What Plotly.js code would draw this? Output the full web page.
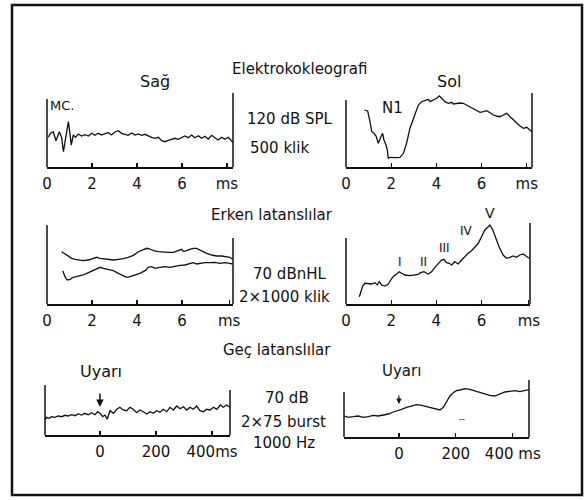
<!DOCTYPE html>
<html>
<head>
<meta charset="utf-8">
<script src="https://cdn.plot.ly/plotly-3.0.1.min.js"></script>
<style>html,body{margin:0;padding:0;background:#fff}#chart{width:587px;height:500px}</style>
</head>
<body>
<div id="chart"></div>
<script>
// Elektrokokleografi – Sağ (ms, amplitude a.u.)
const sagX = [0.06,0.16,0.28,0.40,0.55,0.65,0.73,0.83,0.95,1.02,1.08,1.17,1.27,1.39,1.54,1.69,1.84,1.99,2.13,2.28,2.43,2.58,2.73,2.87,3.02,3.17,3.32,3.47,3.61,3.76,3.91,4.06,4.21,4.36,4.50,4.65,4.80,4.95,5.10,5.24,5.39,5.54,5.69,5.84,5.99,6.13,6.28,6.43,6.58,6.73,6.87,7.02,7.17,7.32,7.47,7.61,7.76,7.91,8.06,8.18,8.28];
const sagY = [29.7,33.7,35.3,26.3,35.3,29.7,15.3,28.7,45.3,33.7,22,32,29.7,33,31,32.3,31,33.7,31.7,33.7,32,33.3,34.3,32,35,36.3,33.7,32.7,31.7,34,32,33,31.7,32.7,31,29.7,28.7,29.7,26.3,25.3,26.7,27.7,28.7,27.7,29.7,31,29.3,32,29.3,31.3,28.7,30.7,28,31.7,29.3,27,29.7,27.7,29.7,26.3,24.3];
// Elektrokokleografi – Sol
const solX = [0.81,0.96,1.06,1.14,1.24,1.33,1.43,1.50,1.58,1.62,1.68,1.77,1.83,1.87,1.95,2.17,2.39,2.54,2.68,2.83,3.05,3.20,3.35,3.50,3.64,3.72,3.86,4.01,4.13,4.23,4.38,4.53,4.68,4.75,4.90,5.04,5.19,5.34,5.49,5.63,5.78,5.93,6.08,6.23,6.37,6.52,6.67,6.81,6.96,7.11,7.26,7.41,7.55,7.70,7.85,8.00,8.14,8.22];
const solY = [57,56,45.3,35.3,33.7,31,23.7,28.7,32,33.7,27,22,17,8.7,9.7,9.3,9.7,13.7,23.7,38.7,53.7,62,65.3,66.3,67.7,65.3,66.7,68.7,71,68.7,65.3,63.7,64.7,63,63.7,64,63.7,62,60.3,58.7,57,54.7,55.3,56.3,54.3,52,51,50.3,52,53.7,50.3,47,43.7,41,38.7,39.7,37,35.3];
// Erken latanslılar – Sağ, two runs
const erkenSagAX = [0.65,0.80,0.95,1.10,1.24,1.39,1.61,1.84,2.06,2.21,2.36,2.50,2.73,2.95,3.17,3.39,3.61,3.84,4.06,4.28,4.43,4.58,4.73,4.95,5.17,5.39,5.61,5.76,5.91,5.99,6.06,6.21,6.36,6.50,6.65,6.80,6.95,7.10,7.32,7.54,7.76,7.99,8.13,8.25];
const erkenSagAY = [41.6,39.3,37.3,35,34,33.3,32.6,33.3,34.6,36,35,34.6,34,33.3,34,34.6,36,38,41.6,44,45,44.3,42.6,41.6,41,41,41,42.3,43.3,44,42,42.6,44,45,45,43.3,41.6,40,38.3,37.3,37.3,36.6,36,34];
const erkenSagBX = [0.70,0.80,0.90,1.02,1.17,1.39,1.61,1.84,2.06,2.21,2.36,2.50,2.73,2.95,3.17,3.39,3.54,3.69,3.91,4.13,4.36,4.50,4.65,4.80,5.02,5.24,5.47,5.69,5.91,6.13,6.36,6.50,6.65,6.80,7.02,7.24,7.47,7.69,7.91,8.13,8.25];
const erkenSagBY = [22.6,16.6,13.3,14,16,17.3,18.3,20.6,22.6,24.6,26,25,24,22.6,20,17.3,16,16.6,18,20,22.6,26,26.6,25,26,26.6,26,27.3,28,28.3,29.3,30.6,29.3,30,30.6,30.6,31,30,30.6,30,29.3];
// Erken latanslılar – Sol
const erkenSolX = [0.59,0.65,0.74,0.84,0.99,1.14,1.28,1.39,1.47,1.58,1.73,1.87,1.98,2.09,2.24,2.36,2.46,2.61,2.83,3.05,3.20,3.30,3.45,3.64,3.79,3.94,4.09,4.23,4.34,4.45,4.57,4.68,4.82,4.97,5.12,5.27,5.41,5.56,5.71,5.86,6.00,6.15,6.30,6.37,6.49,6.64,6.78,6.96,7.11,7.26,7.41,7.55,7.70,7.85,8.00,8.11];
const erkenSolY = [7.3,12.3,18,20.7,20.7,20,21.3,19,22.3,19,18,20,24,27.3,30,32.3,30.7,29,28.3,29,29.7,31.3,32.3,30,32.3,36.7,40,44,44.7,41.3,40.7,39,42.3,40,44,48,50.7,53.3,57.3,60.7,67.3,74,77.3,79,74.7,65.7,57.3,49,45.7,46.7,48,46.7,49,50,48,45.7];
// Geç latanslılar – Sağ
const gecSagX = [-196,-190,-181,-173,-161,-149,-137,-125,-113,-101,-89,-77,-65,-54,-42,-30,-18,-8,0,10,18,26,36,48,60,71,83,95,107,119,131,143,155,167,179,190,202,214,226,238,250,262,274,286,298,310,321,333,345,357,369,381,393,405,417,429,440,452,464];
const gecSagY = [15,17.7,16.7,18.3,17.7,19,18.3,19.7,19,20.3,19.3,21,20,21.7,20.3,22.3,20.3,23.3,21.7,18.3,20,15.7,24.3,21.7,25.7,27.7,25,24.3,27.7,25.7,22.3,25,23.3,21,23.3,21.7,24.3,22.7,25.7,23.3,27.7,25,29,26.3,28.3,25,27.7,25.7,29,24.3,23.3,25.7,25,27.7,25.7,30,27.7,30,27.7];
// Geç latanslılar – Sol
const gecSolX = [-192,-178,-160,-143,-125,-108,-90,-73,-55,-37,-20,-2,9,27,44,62,80,97,115,132,144,156,167,179,191,202,214,232,249,267,284,302,319,337,354,372,389,407,425,442,457];
const gecSolY = [21,19.7,20.3,21,19.7,20.3,21.7,21,22,23,25,26.3,27.7,29.7,31,32.3,31.7,30.3,28.7,27.7,27,29.7,35.3,41,44.3,46.3,47,48.3,47.7,46.3,44.3,43,41.7,41,43,45,45.7,46.3,45.3,46.7,47.3];
// tick labels
const msTickVals = [0,2,4,6,8];
const msTickText = ['0','2','4','6','ms'];
const gecTickVals = [0,200,400];
const gecTickTextL = ['0','200','400ms'];
const gecTickTextR = ['0','200','400 ms'];
// wave labels (latency in ms)
const waveLabels = ['I','II','III','IV','V'];
const waveX = [2.39,3.45,4.38,5.35,6.37];

const W = 587, H = 500;
const INK = '#111';
const FONT = 'DejaVu Sans, Liberation Sans, sans-serif';
const px = v => v / W;
const py = v => 1 - v / H;
const waveLabelPx = [262,262,248,231,213];

function xa(x0, x1, range, tv, tt, anchor) {
  return {domain:[px(x0), px(x1)], range:range, anchor:anchor, tickmode:'array', tickvals:tv, ticktext:tt,
    showline:true, linecolor:INK, linewidth:1.5, ticks:'inside', ticklen:4, tickwidth:1.2, tickcolor:INK,
    showgrid:false, zeroline:false, ticklabelstandoff:2, tickfont:{family:FONT, size:15, color:INK}, fixedrange:true};
}
function ya(yBottom, yTop, range, anchor) {
  return {domain:[py(yBottom), py(yTop)], range:range, anchor:anchor, showline:false, showgrid:false,
    zeroline:false, showticklabels:false, ticks:'', fixedrange:true};
}
function tr(x, y, xa_, ya_) {
  return {x:x, y:y, xaxis:xa_, yaxis:ya_, type:'scatter', mode:'lines', line:{color:INK, width:1.3}, hoverinfo:'skip'};
}

const data = [
  tr(sagX, sagY, 'x', 'y'),
  tr(solX, solY, 'x2', 'y2'),
  tr(erkenSagAX, erkenSagAY, 'x3', 'y3'),
  tr(erkenSagBX, erkenSagBY, 'x3', 'y3'),
  tr(erkenSolX, erkenSolY, 'x4', 'y4'),
  tr(gecSagX, gecSagY, 'x5', 'y5'),
  tr(gecSolX, gecSolY, 'x6', 'y6')
];

function vline(ax, side, frac) {
  return {type:'line', xref:ax.x + ' domain', yref:ax.y + ' domain', x0:side, x1:side, y0:0, y1:frac,
    line:{color:INK, width:1.5}};
}
const shapes = [
  vline({x:'x', y:'y'}, 0, 0.92), vline({x:'x', y:'y'}, 1, 1),
  vline({x:'x2', y:'y2'}, 0, 0.905), vline({x:'x2', y:'y2'}, 1, 1),
  vline({x:'x3', y:'y3'}, 0, 1), vline({x:'x3', y:'y3'}, 1, 0.835),
  vline({x:'x4', y:'y4'}, 0, 0.815), vline({x:'x4', y:'y4'}, 1, 1),
  vline({x:'x5', y:'y5'}, 0, 1), vline({x:'x5', y:'y5'}, 1, 0.9),
  vline({x:'x6', y:'y6'}, 0, 0.79), vline({x:'x6', y:'y6'}, 1, 1),
  {type:'rect', xref:'paper', yref:'paper', x0:px(12), x1:px(582), y0:py(495), y1:py(5), line:{color:INK, width:2.5}}
];

function txt(t, x, y, size) {
  return {text:t, x:px(x), y:py(y), xref:'paper', yref:'paper', showarrow:false, xanchor:'center', yanchor:'middle',
    font:{family:FONT, size:size || 14, color:INK}};
}
const annotations = [
  txt('Elektrokokleografi', 299, 69, 15),
  txt('Sağ', 155, 81, 16),
  txt('Sol', 449, 81, 16),
  txt('MC.', 62, 106, 13),
  txt('N1', 392, 108, 15),
  txt('120 dB SPL', 290, 119, 15),
  txt('500 klik', 279, 148, 15),
  txt('Erken latanslılar', 272, 215, 15),
  txt('70 dBnHL', 289, 274, 15),
  txt('2×1000 klik', 284, 297, 15),
  txt('Geç latanslılar', 277, 350, 15),
  txt('Uyarı', 101, 371, 16),
  txt('Uyarı', 401, 371, 15),
  txt('70 dB', 287, 398, 15),
  txt('2×75 burst', 283, 422, 15),
  txt('1000 Hz', 284, 443, 15),
  txt('--', 462, 419, 8),
  {x:0, y:28, xref:'x5', yref:'y5', ax:0, ay:43, axref:'x5', ayref:'y5', showarrow:true, arrowhead:2, arrowsize:1,
    arrowwidth:1.5, arrowcolor:INK, text:''},
  {x:0, y:33, xref:'x6', yref:'y6', ax:0, ay:43, axref:'x6', ayref:'y6', showarrow:true, arrowhead:2, arrowsize:0.9,
    arrowwidth:1.2, arrowcolor:INK, text:''}
];
waveLabels.forEach((t, i) => {
  annotations.push({text:t, x:waveX[i], y:py(waveLabelPx[i]), xref:'x4', yref:'paper', showarrow:false,
    xanchor:'center', yanchor:'middle', font:{family:FONT, size:t === 'V' ? 14 : 12, color:INK}});
});

const layout = {
  width:W, height:H, margin:{l:0, r:0, t:0, b:0}, showlegend:false,
  paper_bgcolor:'#fff', plot_bgcolor:'rgba(0,0,0,0)',
  xaxis: xa(47, 233, [0, 8.27], msTickVals, msTickText, 'y'),
  yaxis: ya(167, 93, [0, 74], 'x'),
  xaxis2: xa(346, 532, [0, 8.23], msTickVals, msTickText, 'y2'),
  yaxis2: ya(167, 93, [0, 74], 'x2'),
  xaxis3: xa(47, 233, [0, 8.27], [0,2,4,6,8.1], msTickText, 'y3'),
  yaxis3: ya(304, 225, [-10.7, 68.3], 'x3'),
  xaxis4: xa(346, 530, [0, 8.15], [0,2,4,6,8.1], msTickText, 'y4'),
  yaxis4: ya(304, 223, [0, 81], 'x4'),
  xaxis5: xa(45, 230, [-196, 464], gecTickVals, gecTickTextL, 'y5'),
  yaxis5: ya(435, 385, [0, 50], 'x5'),
  xaxis6: xa(344, 529, [-193, 457], gecTickVals, gecTickTextR, 'y6'),
  yaxis6: ya(437, 380, [0, 57], 'x6'),
  shapes: shapes,
  annotations: annotations
};

Plotly.newPlot('chart', data, layout, {staticPlot:true, displayModeBar:false});
</script>
</body>
</html>
